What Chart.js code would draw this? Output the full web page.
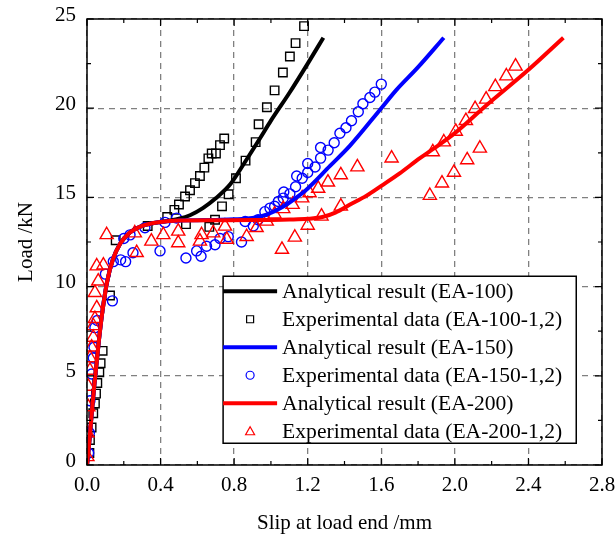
<!DOCTYPE html>
<html>
<head>
<meta charset="utf-8">
<script src="https://cdn.jsdelivr.net/npm/chart.js@4.4.1/dist/chart.umd.min.js"></script>
<style>
  html, body { margin: 0; padding: 0; background: #fff; }
  #wrap { width: 616px; height: 539px; }
</style>
</head>
<body>
<div id="wrap"><canvas id="slipChart" width="616" height="539"></canvas></div>
<script>
// axis ticks
const xTickValues = [0, 0.4, 0.8, 1.2, 1.6, 2.0, 2.4, 2.8];
const yTickValues = [0, 5, 10, 15, 20, 25];

// analytical curves (slip mm, load kN)
const ea100LineX = [0, 0.01, 0.02, 0.03, 0.04, 0.05, 0.065, 0.085, 0.11, 0.14, 0.18, 0.23, 0.3, 0.4, 0.45, 0.5, 0.56, 0.63, 0.7, 0.78, 0.86, 0.94, 1.0, 1.1, 1.2, 1.285];
const ea100LineY = [0, 1.0, 2.2, 3.4, 4.5, 5.5, 7.0, 8.7, 10.3, 11.5, 12.4, 13.0, 13.4, 13.62, 13.7, 13.8, 14.0, 14.4, 14.95, 15.75, 17.0, 18.3, 19.3, 20.85, 22.5, 23.95];
const ea150LineX = [0, 0.01, 0.02, 0.03, 0.04, 0.05, 0.065, 0.085, 0.11, 0.14, 0.18, 0.23, 0.3, 0.4, 0.5, 0.6, 0.7, 0.8, 0.9, 0.98, 1.07, 1.14, 1.2, 1.32, 1.43, 1.6, 1.68, 1.8, 1.94];
const ea150LineY = [0, 1.0, 2.2, 3.4, 4.5, 5.5, 7.0, 8.7, 10.3, 11.5, 12.4, 13.0, 13.4, 13.62, 13.7, 13.72, 13.74, 13.77, 13.85, 14.05, 14.5, 15.0, 15.5, 16.75, 17.9, 20.0, 21.0, 22.3, 23.95];
const ea200LineX = [0, 0.01, 0.02, 0.03, 0.04, 0.05, 0.065, 0.085, 0.11, 0.14, 0.18, 0.23, 0.3, 0.4, 0.5, 0.7, 0.9, 1.0, 1.1, 1.2, 1.28, 1.35, 1.43, 1.52, 1.6, 1.7, 1.81, 1.88, 2.0, 2.17, 2.4, 2.59];
const ea200LineY = [0, 1.0, 2.2, 3.4, 4.5, 5.5, 7.0, 8.7, 10.3, 11.5, 12.4, 13.0, 13.4, 13.62, 13.7, 13.72, 13.73, 13.74, 13.76, 13.8, 13.9, 14.15, 14.6, 15.1, 15.65, 16.35, 17.2, 17.7, 18.6, 20.15, 22.15, 23.95];

// experimental points [slip, load]
const ea100Exp = [[0.013,0.67],[0.016,1.4],[0.025,2.1],[0.034,2.9],[0.043,3.45],[0.049,4.0],[0.056,4.6],[0.067,5.2],[0.074,5.7],[0.085,6.4],[0.125,9.5],[0.156,12.6],[0.33,13.4],[0.436,13.9],[0.475,14.3],[0.50,14.6],[0.533,15.05],[0.538,13.5],[0.56,15.4],[0.587,15.8],[0.614,16.2],[0.638,16.67],[0.66,17.19],[0.665,13.35],[0.678,17.46],[0.696,13.75],[0.701,17.46],[0.723,17.93],[0.734,14.5],[0.746,18.3],[0.77,15.18],[0.81,16.07],[0.862,17.06],[0.917,18.1],[0.933,19.1],[0.978,20.05],[1.02,21.0],[1.065,22.0],[1.103,22.9],[1.134,23.65],[1.18,24.6]];
const ea150Exp = [[0.009,0.67],[0.013,1.8],[0.016,3.6],[0.025,5.1],[0.034,6.0],[0.038,6.6],[0.043,7.7],[0.056,8.1],[0.1,10.7],[0.138,9.2],[0.143,11.4],[0.183,11.5],[0.21,11.4],[0.2,12.7],[0.234,12.9],[0.25,11.9],[0.315,13.3],[0.397,12.0],[0.424,13.6],[0.487,13.84],[0.538,11.6],[0.596,12.0],[0.62,11.7],[0.65,12.26],[0.696,12.35],[0.723,12.7],[0.768,12.8],[0.84,12.5],[0.86,13.65],[0.904,13.4],[0.93,13.75],[0.967,14.2],[0.995,14.4],[1.02,14.5],[1.04,14.77],[1.067,14.96],[1.07,15.3],[1.103,15.2],[1.134,15.6],[1.14,16.2],[1.17,16.07],[1.20,16.4],[1.20,16.9],[1.24,16.7],[1.27,17.2],[1.27,17.8],[1.311,17.65],[1.344,18.06],[1.375,18.6],[1.408,18.9],[1.438,19.3],[1.475,19.8],[1.50,20.25],[1.538,20.6],[1.565,20.9],[1.60,21.35]];
const ea200Exp = [[0.002,0.46],[0.002,1.8],[0.007,3.25],[0.007,4.4],[0.016,5.3],[0.016,6.0],[0.025,6.6],[0.034,7.15],[0.034,7.8],[0.043,8.2],[0.053,8.8],[0.043,9.66],[0.061,10.3],[0.053,11.15],[0.089,11.2],[0.107,12.9],[0.26,13.0],[0.27,11.9],[0.35,12.54],[0.415,12.9],[0.496,13.1],[0.496,12.45],[0.614,12.54],[0.623,12.9],[0.686,13.0],[0.75,13.38],[0.76,12.64],[0.868,12.8],[0.922,13.3],[0.977,13.66],[1.02,14.06],[1.06,12.08],[1.067,14.36],[1.118,14.6],[1.13,12.76],[1.17,14.96],[1.20,13.43],[1.21,15.25],[1.257,15.5],[1.275,13.94],[1.31,15.85],[1.38,16.26],[1.38,14.5],[1.47,16.7],[1.656,17.2],[1.864,15.1],[1.88,17.55],[1.93,15.8],[1.94,18.1],[1.995,16.4],[2.005,18.7],[2.06,19.3],[2.067,17.1],[2.11,19.97],[2.136,17.75],[2.17,20.5],[2.22,21.2],[2.28,21.8],[2.33,22.35]];

const labels = ['Analytical result (EA-100)', 'Experimental data (EA-100-1,2)', 'Analytical result (EA-150)', 'Experimental data (EA-150-1,2)', 'Analytical result (EA-200)', 'Experimental data (EA-200-1,2)'];

const FONT = '"Liberation Serif", "Times New Roman", serif';

function toPts(xs, ys) { return xs.map((v, i) => ({x: v, y: ys[i]})); }
function pairPts(arr) { return arr.map(p => ({x: p[0], y: p[1]})); }

function lineSet(label, xs, ys, color, order) {
  return {label, data: toPts(xs, ys), showLine: true, borderColor: color, backgroundColor: color,
    borderWidth: 4, pointRadius: 0, cubicInterpolationMode: 'monotone', order, legendKind: 'line'};
}
function pointSet(label, arr, color, style, r, order) {
  return {label, data: pairPts(arr), showLine: false, borderColor: color, backgroundColor: 'rgba(0,0,0,0)',
    borderWidth: 1.4, pointStyle: style, pointRadius: r, order, legendKind: style};
}

// legend box inside the plot, drawn from the dataset list
const boxLegend = {
  id: 'boxLegend',
  afterDraw(chart) {
    const {ctx, scales: {x, y}} = chart;
    const left = x.getPixelForValue(0.74), right = x.getPixelForValue(2.66);
    const top = y.getPixelForValue(10.58), rowH = 28;
    const bottom = top + rowH * 6 - 1;
    ctx.save();
    ctx.fillStyle = '#fff';
    ctx.fillRect(left, top, right - left, bottom - top);
    ctx.strokeStyle = '#000'; ctx.lineWidth = 1.5;
    ctx.strokeRect(left, top, right - left, bottom - top);
    chart.data.datasets.forEach((ds, i) => {
      const cy = top + rowH * i + 15;
      const sx0 = left, sx1 = left + 54, mx = left + 27;
      ctx.strokeStyle = ds.borderColor;
      if (ds.legendKind === 'line') {
        ctx.lineWidth = 4;
        ctx.beginPath(); ctx.moveTo(sx0, cy); ctx.lineTo(sx1, cy); ctx.stroke();
      } else {
        ctx.lineWidth = 1.2;
        ctx.beginPath();
        if (ds.legendKind === 'rect') ctx.rect(mx - 3.5, cy - 3.5, 7, 7);
        else if (ds.legendKind === 'circle') ctx.arc(mx, cy, 4, 0, Math.PI * 2);
        else { ctx.moveTo(mx, cy - 4.5); ctx.lineTo(mx + 4.5, cy + 3.5); ctx.lineTo(mx - 4.5, cy + 3.5); ctx.closePath(); }
        ctx.stroke();
      }
      ctx.fillStyle = '#000';
      ctx.font = '21.6px ' + FONT;
      ctx.textBaseline = 'middle';
      ctx.fillText(ds.label, left + 59, cy + 1);
    });
    ctx.restore();
  }
};

// frame with inward ticks on all four sides
const frameTicks = {
  id: 'frameTicks',
  afterDatasetsDraw(chart) {
    const {ctx, chartArea: a, scales: {x, y}} = chart;
    ctx.save();
    ctx.strokeStyle = '#000';
    ctx.lineWidth = 1.2;
    ctx.beginPath();
    xTickValues.forEach((v, i) => {
      const px = x.getPixelForValue(v);
      ctx.moveTo(px, a.bottom); ctx.lineTo(px, a.bottom - 7);
      ctx.moveTo(px, a.top); ctx.lineTo(px, a.top + 7);
      if (i < xTickValues.length - 1) {
        const pm = x.getPixelForValue((v + xTickValues[i + 1]) / 2);
        ctx.moveTo(pm, a.bottom); ctx.lineTo(pm, a.bottom - 4);
        ctx.moveTo(pm, a.top); ctx.lineTo(pm, a.top + 4);
      }
    });
    yTickValues.forEach((v, i) => {
      const py = y.getPixelForValue(v);
      ctx.moveTo(a.left, py); ctx.lineTo(a.left + 7, py);
      ctx.moveTo(a.right, py); ctx.lineTo(a.right - 7, py);
      if (i < yTickValues.length - 1) {
        const pm = y.getPixelForValue((v + yTickValues[i + 1]) / 2);
        ctx.moveTo(a.left, pm); ctx.lineTo(a.left + 4, pm);
        ctx.moveTo(a.right, pm); ctx.lineTo(a.right - 4, pm);
      }
    });
    ctx.stroke();
    ctx.lineWidth = 1.5;
    ctx.strokeRect(a.left, a.top, a.right - a.left, a.bottom - a.top);
    ctx.restore();
  }
};

const ctx = document.getElementById('slipChart').getContext('2d');
new Chart(ctx, {
  type: 'scatter',
  data: {
    datasets: [
      lineSet(labels[0], ea100LineX, ea100LineY, '#000000', 3),
      pointSet(labels[1], ea100Exp, '#000000', 'rect', 6, 6),
      lineSet(labels[2], ea150LineX, ea150LineY, '#0000ff', 2),
      pointSet(labels[3], ea150Exp, '#0000ff', 'circle', 5, 5),
      lineSet(labels[4], ea200LineX, ea200LineY, '#ff0000', 1),
      pointSet(labels[5], ea200Exp, '#ff0000', 'triangle', 7.6, 4)
    ]
  },
  options: {
    responsive: false,
    animation: false,
    devicePixelRatio: 1,
    layout: {padding: {top: 19, right: 14, left: 0, bottom: 0}},
    plugins: {legend: {display: false}, tooltip: {enabled: false}},
    scales: {
      x: {
        type: 'linear', min: 0, max: 2.8,
        afterBuildTicks: s => { s.ticks = xTickValues.map(v => ({value: v})); },
        afterFit: s => { s.height = 74; s.paddingLeft = 0; s.paddingRight = 0; },
        grid: {color: '#808080', lineWidth: 1.3, drawTicks: false},
        border: {display: false, dash: [6, 5]},
        ticks: {color: '#000', font: {family: FONT, size: 21}, padding: 8, maxRotation: 0,
          callback: v => v.toFixed(1)},
        title: {display: true, text: 'Slip at load end /mm', color: '#000', font: {family: FONT, size: 21},
          padding: {top: 3, bottom: 3}}
      },
      y: {
        type: 'linear', min: 0, max: 25,
        afterBuildTicks: s => { s.ticks = yTickValues.map(v => ({value: v})); },
        afterFit: s => { s.width = 87; s.paddingTop = 0; s.paddingBottom = 0; },
        grid: {color: '#808080', lineWidth: 1.3, drawTicks: false},
        border: {display: false, dash: [6, 5]},
        ticks: {color: '#000', font: {family: FONT, size: 21}, padding: 11, labelOffset: -4,
          callback: v => String(v)},
        title: {display: true, text: 'Load /kN', color: '#000', font: {family: FONT, size: 21},
          padding: {top: 14, bottom: 14}}
      }
    }
  },
  plugins: [frameTicks, boxLegend]
});
</script>
</body>
</html>
